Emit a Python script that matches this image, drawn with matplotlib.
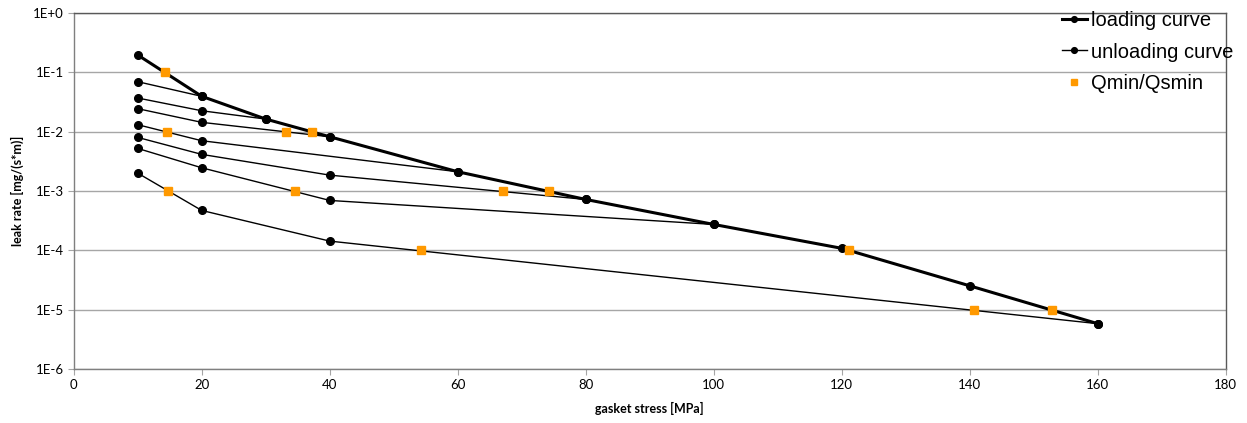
import math
import matplotlib
matplotlib.use("Agg")
import matplotlib.pyplot as plt
from matplotlib.ticker import FuncFormatter, FixedLocator, NullLocator

# loading curve
load_x = [10, 20, 30, 40, 60, 80, 100, 120, 140, 160]
load_y = [0.196, 0.0394, 0.0163, 0.0082, 0.00211, 7.2e-4, 2.73e-4, 1.08e-4, 2.52e-5, 5.8e-6]

# unloading curves (start point on loading curve, back to 10 MPa)
unload_20_x = [20, 10]
unload_20_y = [0.0394, 0.0695]
unload_30_x = [30, 20, 10]
unload_30_y = [0.0163, 0.0225, 0.0369]
unload_40_x = [40, 20, 10]
unload_40_y = [0.0082, 0.01435, 0.0244]
unload_60_x = [60, 20, 10]
unload_60_y = [0.00211, 0.00703, 0.0131]
unload_80_x = [80, 40, 20, 10]
unload_80_y = [7.2e-4, 1.85e-3, 4.14e-3, 8.0e-3]
unload_100_x = [100, 40, 20, 10]
unload_100_y = [2.73e-4, 6.93e-4, 2.46e-3, 5.22e-3]
unload_160_x = [160, 40, 20, 10]
unload_160_y = [5.8e-6, 1.43e-4, 4.7e-4, 2.0e-3]

# Qmin/Qsmin points
q_x = [14.3, 14.6, 33.2, 37.3, 14.8, 34.5, 67.0, 74.2, 54.2, 121.2, 140.6, 152.9]
q_y = [1e-1, 1e-2, 1e-2, 1e-2, 1e-3, 1e-3, 1e-3, 1e-3, 1e-4, 1e-4, 1e-5, 1e-5]

y_ticks = [1e-6, 1e-5, 1e-4, 1e-3, 1e-2, 1e-1, 1e0]

fig = plt.figure(figsize=(12.47, 4.23), dpi=100)
ax = fig.add_axes([0.0591, 0.1277, 0.9239, 0.8416])

unloads = [(unload_20_x, unload_20_y), (unload_30_x, unload_30_y),
           (unload_40_x, unload_40_y), (unload_60_x, unload_60_y),
           (unload_80_x, unload_80_y), (unload_100_x, unload_100_y),
           (unload_160_x, unload_160_y)]
for i, (ux, uy) in enumerate(unloads):
    ax.plot(ux, uy, color="black", lw=1.0, marker="o", ms=5.5,
            label="unloading curve" if i == 0 else None, zorder=3)

ax.plot(load_x, load_y, color="black", lw=2.2, marker="o", ms=5.5,
        label="loading curve", zorder=4)
ax.plot(q_x, q_y, ls="none", marker="s", ms=6, color="#FF9900",
        mec="#FF9900", label="Qmin/Qsmin", zorder=5)

ax.set_yscale("log")
ax.set_xlim(0, 180)
ax.set_ylim(1e-6, 1e0)
ax.xaxis.set_major_locator(FixedLocator(range(0, 181, 20)))
ax.yaxis.set_major_locator(FixedLocator(y_ticks))
ax.yaxis.set_minor_locator(NullLocator())
ax.yaxis.set_major_formatter(FuncFormatter(lambda v, p: "1E%+d" % round(math.log10(v))))

ax.grid(axis="y", color="#a6a6a6", lw=1.0)
ax.set_axisbelow(True)
for s in ax.spines.values():
    s.set_color("#595959")
    s.set_linewidth(1.0)
ax.spines["left"].set_color("#7f7f7f")
ax.spines["bottom"].set_color("#7f7f7f")
ax.tick_params(axis="both", direction="out", length=4, color="#a6a6a6",
               labelsize=9.5, pad=3)
for lab in ax.get_xticklabels() + ax.get_yticklabels():
    lab.set_family("Lato")

ax.set_xlabel("gasket stress [MPa]", fontsize=9, fontweight="bold", family="Lato", labelpad=8)
ax.set_ylabel("leak rate [mg/(s*m)]", fontsize=9, fontweight="bold", family="Lato", labelpad=7)

h, l = ax.get_legend_handles_labels()
order = [l.index("loading curve"), l.index("unloading curve"), l.index("Qmin/Qsmin")]
leg = fig.legend([h[i] for i in order], [l[i] for i in order], loc="upper left",
                 bbox_to_anchor=(0.845, 0.992), frameon=False, handlelength=1.25,
                 handletextpad=0.2, labelspacing=0.6, borderaxespad=0.0,
                 markerscale=0.75, prop={"family": "Liberation Sans", "size": 14.5})

fig.savefig("out.png", dpi=100)
